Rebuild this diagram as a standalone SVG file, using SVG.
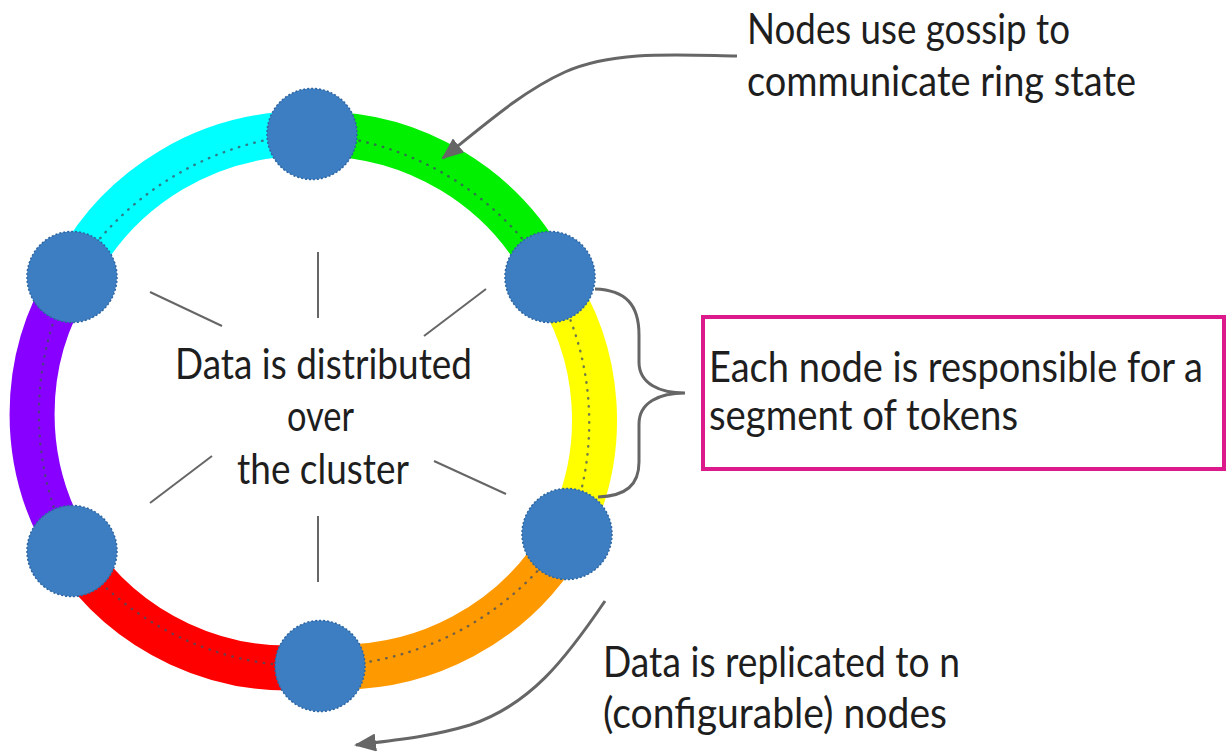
<svg xmlns="http://www.w3.org/2000/svg" width="1227" height="752" viewBox="0 0 1227 752">
  <defs>
    <marker id="arrowhead" markerUnits="userSpaceOnUse" viewBox="0 0 22 18" markerWidth="22" markerHeight="18" refX="20" refY="9" orient="auto">
      <path d="M0,0 L22,9 L0,18 Z" fill="#666666"/>
    </marker>
    <style>
      .seg { fill: none; stroke-width: 45; stroke-linecap: butt; }
      .dots { fill: none; stroke: #3f4f60; stroke-width: 2.4; stroke-dasharray: 0.5 7.5; stroke-linecap: round; opacity: 0.75; }
      .node { fill: #3d7ec2; stroke: #2d65a0; stroke-width: 1.5; stroke-dasharray: 2 2; }
      .spoke { stroke: #666666; stroke-width: 2; fill: none; }
      .conn { stroke: #666666; stroke-width: 3; fill: none; }
      .label { font-family: Lato, "Liberation Sans", sans-serif; font-size: 43px; fill: #1e1e1e; }
      .label-tall { font-family: Lato, "Liberation Sans", sans-serif; font-size: 39px; fill: #1e1e1e; }
      .box { fill: none; stroke: #dc1a8c; stroke-width: 4; }
    </style>
  </defs>
  <rect width="1227" height="752" fill="#ffffff"/>

  <!-- token ring: one coloured arc per node range, clockwise from the top node -->
  <g id="ring">
    <path class="seg" stroke="#00f000" d="M312,134 A258,258 0 0 1 550,277"/>
    <path class="seg" stroke="#ffff00" d="M550,277 A251,251 0 0 1 567,534"/>
    <path class="seg" stroke="#ff9900" d="M567,534 A258,258 0 0 1 320,666"/>
    <path class="seg" stroke="#ff0000" d="M320,666 A258,258 0 0 1 72,551"/>
    <path class="seg" stroke="#8800ff" d="M72,551 A255,255 0 0 1 72,277"/>
    <path class="seg" stroke="#00ffff" d="M72,277 A258,258 0 0 1 312,134"/>
    <path class="dots" d="M312,134 A300,300 0 0 1 550,277"/>
    <path class="dots" d="M550,277 A290,290 0 0 1 567,534"/>
    <path class="dots" d="M567,534 A300,300 0 0 1 320,666"/>
    <path class="dots" d="M320,666 A300,300 0 0 1 72,551"/>
    <path class="dots" d="M72,551 A300,300 0 0 1 72,277"/>
    <path class="dots" d="M72,277 A300,300 0 0 1 312,134"/>
  </g>

  <!-- spokes around the centre label -->
  <g id="spokes">
    <line class="spoke" x1="318" y1="252" x2="318" y2="318"/>
    <line class="spoke" x1="150" y1="292" x2="222" y2="326"/>
    <line class="spoke" x1="486" y1="289" x2="424" y2="336"/>
    <line class="spoke" x1="212" y1="456" x2="150" y2="503"/>
    <line class="spoke" x1="434" y1="461" x2="506" y2="494"/>
    <line class="spoke" x1="318" y1="516" x2="318" y2="582"/>
  </g>

  <!-- nodes -->
  <g id="node-top"><ellipse class="node" cx="312" cy="134" rx="45" ry="45.5"/></g>
  <g id="node-upper-left"><ellipse class="node" cx="72" cy="277" rx="45" ry="45.5"/></g>
  <g id="node-upper-right"><ellipse class="node" cx="550" cy="277" rx="45" ry="45.5"/></g>
  <g id="node-lower-left"><ellipse class="node" cx="72" cy="551" rx="45" ry="45.5"/></g>
  <g id="node-lower-right"><ellipse class="node" cx="567" cy="534" rx="45" ry="45.5"/></g>
  <g id="node-bottom"><ellipse class="node" cx="320" cy="666" rx="45" ry="45.5"/></g>

  <!-- connectors: gossip arrow, segment brace, replication arrow -->
  <g id="connectors">
    <path class="conn" marker-end="url(#arrowhead)" d="M737,56 C680,55 615,50 565,72 C525,90 490,120 443,158"/>
    <path class="conn" d="M595,289 C626,290 639,305 639,335 L639,362 C639,384 660,393 685,393 C660,393 639,402 639,424 L639,462 C639,485 626,496 598,497"/>
    <path class="conn" marker-end="url(#arrowhead)" d="M605,601 C565,660 530,705 470,725 C430,737 395,740 356,745"/>
  </g>

  <!-- annotation box -->
  <g id="segment-note">
    <rect class="box" x="703" y="317" width="521" height="152"/>
    <text class="label-tall" transform="matrix(1,0,0,1.1,709,382)" x="0" y="0" textLength="494" lengthAdjust="spacingAndGlyphs">Each node is responsible for a</text>
    <text class="label" x="709" y="430" textLength="309" lengthAdjust="spacingAndGlyphs">segment of tokens</text>
  </g>

  <g id="gossip-note">
    <text class="label" x="747" y="44" textLength="323" lengthAdjust="spacingAndGlyphs">Nodes use gossip to</text>
    <text class="label" x="747" y="96" textLength="389" lengthAdjust="spacingAndGlyphs">communicate ring state</text>
  </g>

  <g id="replication-note">
    <text class="label" x="603" y="677" textLength="357" lengthAdjust="spacingAndGlyphs">Data is replicated to n</text>
    <text class="label" x="603" y="728" textLength="344" lengthAdjust="spacingAndGlyphs">(configurable) nodes</text>
  </g>

  <g id="centre-label">
    <text class="label" x="175" y="379" textLength="297" lengthAdjust="spacingAndGlyphs">Data is distributed</text>
    <text class="label" x="287" y="431" textLength="67" lengthAdjust="spacingAndGlyphs">over</text>
    <text class="label" x="237" y="484" textLength="172" lengthAdjust="spacingAndGlyphs">the cluster</text>
  </g>
</svg>
